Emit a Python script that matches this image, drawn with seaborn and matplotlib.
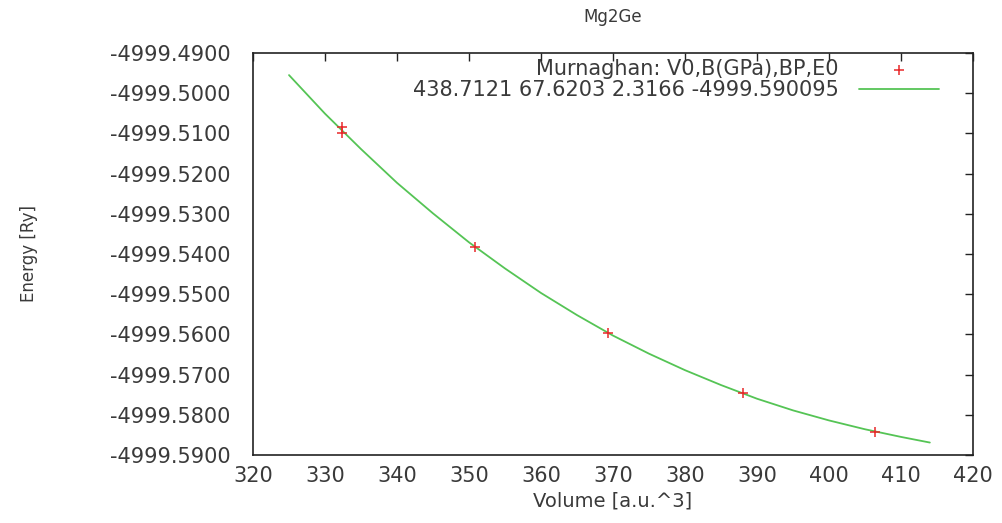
import numpy as np
import pandas as pd
import seaborn as sns
import matplotlib
matplotlib.use("Agg")
import matplotlib.pyplot as plt

# measured points (volume in a.u.^3, energy in Ry)
vol_pts = [332.3, 332.3, 350.8, 369.3, 388.0, 406.4]
en_pts = [-4999.5085, -4999.5099, -4999.5382, -4999.5597, -4999.5747, -4999.5842]

# fitted Murnaghan curve
vol_fit = [325, 330, 335, 340, 345, 350, 355, 360, 365, 370,
           375, 380, 385, 390, 395, 400, 405, 410, 414]
en_fit = [-4999.4955, -4999.5051, -4999.5139, -4999.5223, -4999.5299,
          -4999.5371, -4999.5436, -4999.5497, -4999.5552, -4999.5603,
          -4999.5648, -4999.5689, -4999.5726, -4999.5760, -4999.5789,
          -4999.5814, -4999.5836, -4999.5855, -4999.5869]

x_ticks = [320, 330, 340, 350, 360, 370, 380, 390, 400, 410, 420]
y_ticks = [-4999.49, -4999.50, -4999.51, -4999.52, -4999.53, -4999.54,
           -4999.55, -4999.56, -4999.57, -4999.58, -4999.59]

pts = pd.DataFrame({"V": vol_pts, "E": en_pts})
fit = pd.DataFrame({"V": vol_fit, "E": en_fit})

sns.set_style("white")
plt.rcParams["font.family"] = ["DejaVu Sans"]

fig = plt.figure(figsize=(10.02, 5.23), dpi=100)
ax = fig.add_axes([0.2525, 0.130, 0.7186, 0.7687])

sns.scatterplot(data=pts, x="V", y="E", ax=ax, marker="+", s=55, color="#e8282a",
                linewidth=1.1, label="Murnaghan: V0,B(GPa),BP,E0", zorder=3)
sns.lineplot(data=fit, x="V", y="E", ax=ax, color="#55c455", linewidth=1.3,
             label="438.7121 67.6203 2.3166 -4999.590095", zorder=2)

ax.set_xlim(320, 420)
ax.set_ylim(-4999.59, -4999.49)
ax.set_xticks(x_ticks)
ax.set_yticks(y_ticks)
ax.set_yticklabels([f"{v:.4f}" for v in y_ticks])

ax.tick_params(direction="in", length=6, width=1, top=True, right=True,
               labelsize=15, colors="#222222", labelcolor="#3a3a3a")
ax.tick_params(axis="y", pad=16)
ax.tick_params(axis="x", pad=8)
for s in ax.spines.values():
    s.set_color("#222222")
    s.set_linewidth(1.2)

ax.set_xlabel("Volume [a.u.^3]", fontsize=14, color="#3a3a3a", labelpad=4)
ax.set_ylabel("Energy [Ry]", fontsize=12, color="#3a3a3a", labelpad=52)
ax.set_title("Mg2Ge", fontsize=12, color="#3a3a3a", pad=22)

leg = ax.legend(loc="upper right", frameon=False, markerfirst=False, fontsize=15,
                handlelength=3.8, borderaxespad=0.1, labelspacing=0.05,
                handletextpad=1.0, borderpad=0.0, bbox_to_anchor=(0.955, 0.99))
for t in leg.get_texts():
    t.set_color("#3a3a3a")

fig.savefig("out.png", dpi=100)
